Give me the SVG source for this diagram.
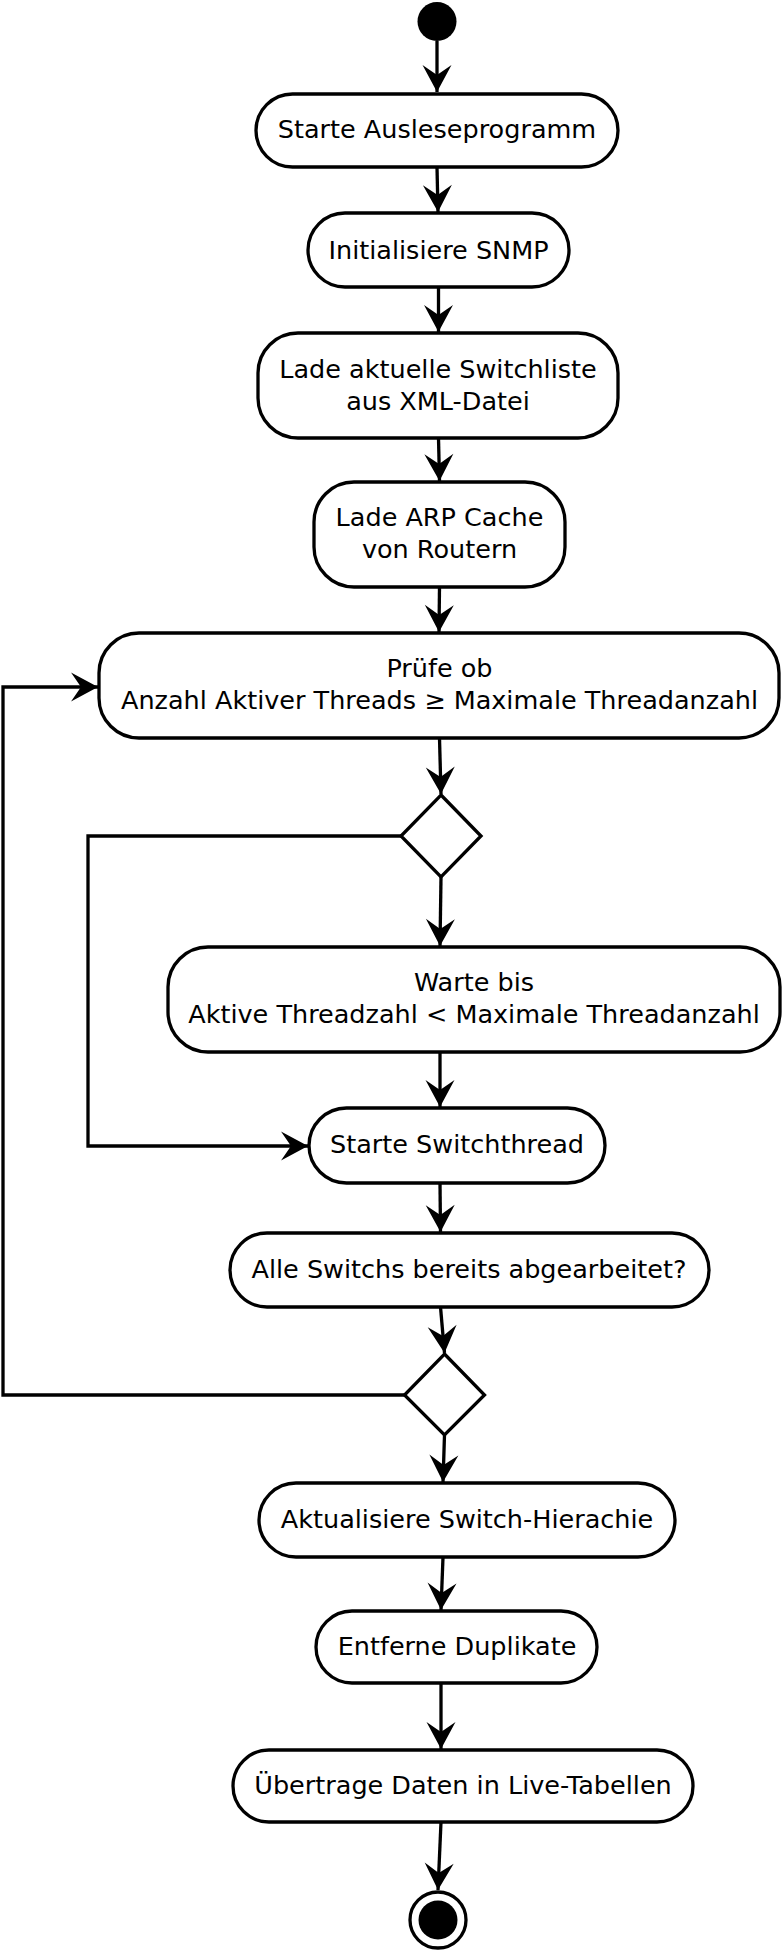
<svg xmlns="http://www.w3.org/2000/svg" width="782" height="1952" viewBox="0 0 782 1952">
<defs>
<marker id="arr" markerWidth="30" markerHeight="30" viewBox="-28 -15 30 30" refX="0" refY="0" orient="auto" markerUnits="userSpaceOnUse">
<path d="M0,0 L-27,-14.5 L-17,0 L-27,14.5 Z" fill="#000"/>
</marker>
</defs>
<style>
.n{fill:#fff;stroke:#000;stroke-width:3.3}
.t{font-family:"DejaVu Sans",sans-serif;font-size:25.5px;fill:#000;text-anchor:middle}
.c{fill:none;stroke:#000;stroke-width:3.3;marker-end:url(#arr)}
</style>
<rect width="782" height="1952" fill="#fff"/>
<g id="start"><circle cx="437" cy="21.5" r="19.5" fill="#000"/></g>
<g id="n1"><rect class="n" x="256" y="94" width="362" height="73" rx="36.5"/><text class="t" x="437" y="138">Starte Ausleseprogramm</text></g>
<g id="n2"><rect class="n" x="308" y="213" width="261" height="74" rx="37"/><text class="t" x="438.5" y="258.5">Initialisiere SNMP</text></g>
<g id="n3"><rect class="n" x="258" y="333" width="360" height="105" rx="40"/><text class="t" x="438" y="378">Lade aktuelle Switchliste</text><text class="t" x="438" y="410">aus XML-Datei</text></g>
<g id="n4"><rect class="n" x="314" y="482" width="251" height="105" rx="40"/><text class="t" x="439.5" y="526">Lade ARP Cache</text><text class="t" x="439.5" y="558">von Routern</text></g>
<g id="n5"><rect class="n" x="99" y="633" width="680" height="105" rx="40"/><text class="t" x="439.5" y="677">Prüfe ob</text><text class="t" x="439.5" y="709">Anzahl Aktiver Threads ≥ Maximale Threadanzahl</text></g>
<g id="d1"><polygon class="n" points="441,795 481,836 441,877 401,836"/></g>
<g id="n6"><rect class="n" x="168" y="947" width="612" height="105" rx="40"/><text class="t" x="474" y="991">Warte bis</text><text class="t" x="474" y="1023">Aktive Threadzahl &lt; Maximale Threadanzahl</text></g>
<g id="n7"><rect class="n" x="309" y="1108" width="296" height="75" rx="37.5"/><text class="t" x="457" y="1153">Starte Switchthread</text></g>
<g id="n8"><rect class="n" x="230" y="1233" width="479" height="74" rx="37"/><text class="t" x="469" y="1278">Alle Switchs bereits abgearbeitet?</text></g>
<g id="d2"><polygon class="n" points="444.5,1354 484.5,1395 444.5,1435 404.5,1395"/></g>
<g id="n9"><rect class="n" x="259" y="1483" width="416" height="74" rx="37"/><text class="t" x="467" y="1528">Aktualisiere Switch-Hierachie</text></g>
<g id="n10"><rect class="n" x="316" y="1611" width="281" height="72" rx="36"/><text class="t" x="457" y="1655">Entferne Duplikate</text></g>
<g id="n11"><rect class="n" x="233" y="1750" width="460" height="72" rx="36"/><text class="t" x="463" y="1794">Übertrage Daten in Live-Tabellen</text></g>
<g id="end"><circle cx="438" cy="1920" r="28" fill="#fff" stroke="#000" stroke-width="3.3"/><circle cx="438" cy="1920" r="19.5" fill="#000"/></g>
<g id="connectors">
<path class="c" d="M437,41 L437,92"/>
<path class="c" d="M437,167 L438,212"/>
<path class="c" d="M438.5,287 L438.5,332"/>
<path class="c" d="M438.5,438 L439.5,481"/>
<path class="c" d="M439.5,587 L439,632"/>
<path class="c" d="M439.5,738 L441,794"/>
<path class="c" d="M441,877 L440,946"/>
<path class="c" d="M440,1052 L440,1107"/>
<path class="c" d="M401,836 L88,836 L88,1146 L308,1146"/>
<path class="c" d="M440,1183 L440.5,1232"/>
<path class="c" d="M440.5,1307 L444.5,1353"/>
<path class="c" d="M404.5,1395 L3,1395 L3,687 L98,687"/>
<path class="c" d="M444.5,1435 L443,1482"/>
<path class="c" d="M443,1557 L441,1610"/>
<path class="c" d="M441,1683 L441,1749"/>
<path class="c" d="M441,1822 L438,1890"/>
</g>
</svg>
